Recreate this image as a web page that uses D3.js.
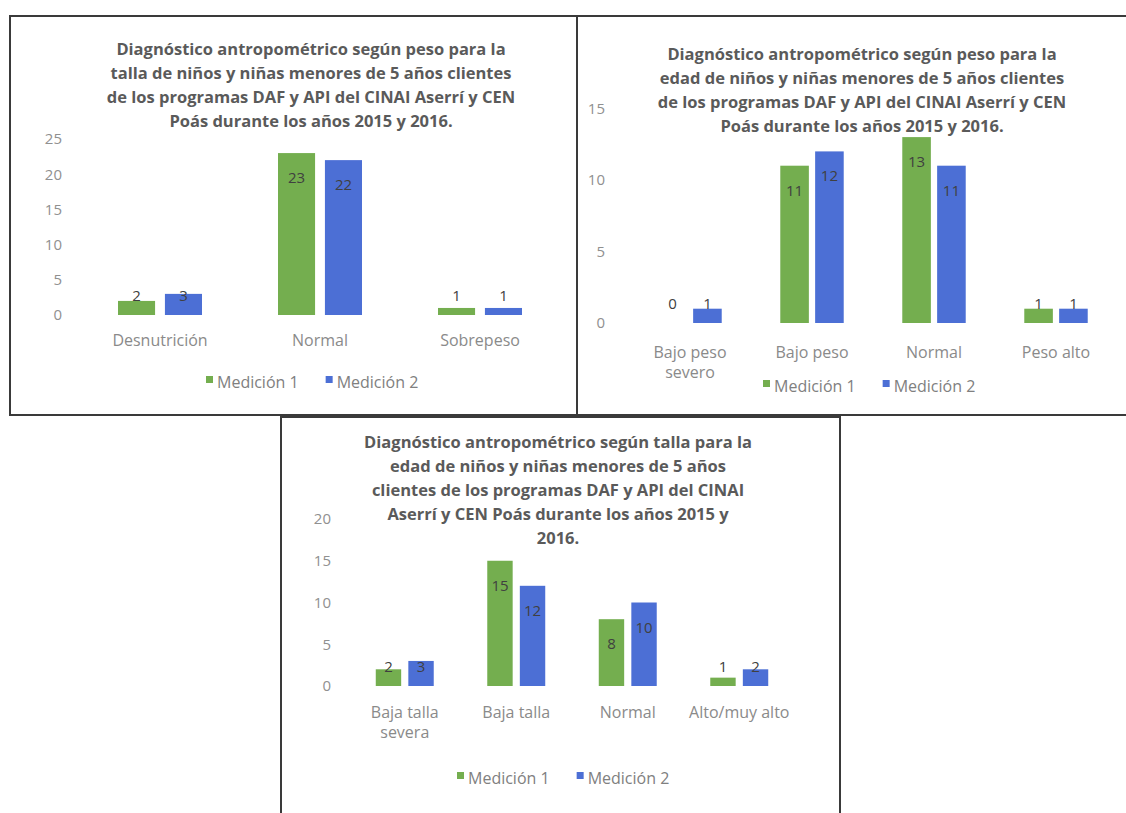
<!DOCTYPE html>
<html>
<head>
<meta charset="utf-8">
<script src="https://cdn.jsdelivr.net/npm/d3@7"></script>
<style>
  body { margin: 0; background: #fff; }
  svg { display: block; font-family: "Open Sans", sans-serif; }
</style>
</head>
<body>
<div id="charts"></div>
<script>
// Series shared by the three charts
const seriesNames = ["Medición 1", "Medición 2"];
const seriesColors = ["#74ae4f", "#4c6fd5"];

// Chart 1: peso para la talla
const title1 = [
    "Diagnóstico antropométrico según peso para la",
    "talla de niños y niñas menores de 5 años clientes",
    "de los programas DAF y API del CINAI Aserrí y CEN",
    "Poás durante los años 2015 y 2016."
];
const categories1 = ["Desnutrición", "Normal", "Sobrepeso"];
const medicion1_pt = [2, 23, 1];
const medicion2_pt = [3, 22, 1];
const ticks1 = [0, 5, 10, 15, 20, 25];

// Chart 2: peso para la edad
const title2 = [
    "Diagnóstico antropométrico según peso para la",
    "edad de niños y niñas menores de 5 años clientes",
    "de los programas DAF y API del CINAI Aserrí y CEN",
    "Poás durante los años 2015 y 2016."
];
const categories2 = ["Bajo peso\nsevero", "Bajo peso", "Normal", "Peso alto"];
const medicion1_pe = [0, 11, 13, 1];
const medicion2_pe = [1, 12, 11, 1];
const ticks2 = [0, 5, 10, 15];

// Chart 3: talla para la edad
const title3 = [
    "Diagnóstico antropométrico según talla para la",
    "edad de niños y niñas menores de 5 años",
    "clientes de los programas DAF y API del CINAI",
    "Aserrí y CEN Poás durante los años 2015 y",
    "2016."
];
const categories3 = ["Baja talla\nsevera", "Baja talla", "Normal", "Alto/muy alto"];
const medicion1_te = [2, 15, 8, 1];
const medicion2_te = [3, 12, 10, 2];
const ticks3 = [0, 5, 10, 15, 20];

const svg = d3.select("#charts")
    .append("svg")
    .attr("width", 1126)
    .attr("height", 813);

// Frames around the pasted charts
const frames = [
    { x: 10, y: 16, w: 567, h: 399 },
    { x: 577, y: 16, w: 570, h: 399 },
    { x: 281, y: 417, w: 559, h: 420 }
];
svg.selectAll("rect.frame")
    .data(frames)
    .join("rect")
    .attr("class", "frame")
    .attr("x", d => d.x)
    .attr("y", d => d.y)
    .attr("width", d => d.w)
    .attr("height", d => d.h)
    .attr("fill", "none")
    .attr("stroke", "#3a3a3a")
    .attr("stroke-width", 2);

function drawChart(opt) {
    const g = svg.append("g");
    const rows = opt.categories.map((c, i) => ({ cat: c, vals: [opt.s1[i], opt.s2[i]] }));

    const x0 = d3.scaleBand()
        .domain(opt.categories)
        .range(opt.xRange)
        .paddingInner(opt.groupPad)
        .paddingOuter(opt.groupPad / 2);

    const x1 = d3.scaleBand()
        .domain([0, 1])
        .range([0, x0.bandwidth()])
        .paddingInner(opt.barPad);

    const y = d3.scaleLinear()
        .domain([0, d3.max(opt.ticks)])
        .range([opt.yZero, opt.yTop]);

    // Title
    g.append("text")
        .attr("text-anchor", "middle")
        .attr("fill", "#5a5a5a")
        .style("font-size", "16.5px")
        .style("font-weight", 700)
        .selectAll("tspan")
        .data(opt.title)
        .join("tspan")
        .attr("x", opt.titleX)
        .attr("y", (d, i) => opt.titleY + i * 24)
        .attr("dominant-baseline", "central")
        .text(d => d);

    // Y axis (labels only)
    const yAxis = g.append("g")
        .attr("transform", `translate(${opt.tickX},0)`)
        .call(d3.axisLeft(y).tickValues(opt.ticks).tickSize(0).tickPadding(0));
    yAxis.select(".domain").remove();
    yAxis.selectAll("text")
        .attr("fill", "#909090")
        .style("font-family", "'Open Sans', sans-serif")
        .style("font-size", "15px");

    // X axis (category labels, may wrap)
    const xAxis = g.append("g")
        .attr("transform", `translate(0,${opt.catY})`)
        .call(d3.axisBottom(x0).tickSize(0).tickPadding(0));
    xAxis.select(".domain").remove();
    xAxis.selectAll("text")
        .attr("fill", "#8a8a8a")
        .attr("dy", null)
        .style("font-family", "'Open Sans', sans-serif")
        .style("font-size", "16px")
        .each(function (d) {
            const t = d3.select(this);
            const lines = d.split("\n");
            t.text(null);
            lines.forEach((ln, i) => {
                t.append("tspan")
                    .attr("x", 0)
                    .attr("y", i * 20)
                    .attr("dominant-baseline", "central")
                    .text(ln);
            });
        });

    // Bars
    const groups = g.selectAll("g.grp")
        .data(rows)
        .join("g")
        .attr("class", "grp")
        .attr("transform", d => `translate(${x0(d.cat)},0)`);

    groups.selectAll("rect")
        .data(d => d.vals.map((v, i) => ({ v, i })))
        .join("rect")
        .attr("x", d => x1(d.i))
        .attr("width", x1.bandwidth())
        .attr("y", d => y(d.v))
        .attr("height", d => opt.yZero - y(d.v))
        .attr("fill", d => seriesColors[d.i]);

    // Data labels near the bar end (above short bars)
    groups.selectAll("text.lbl")
        .data(d => d.vals.map((v, i) => ({ v, i })))
        .join("text")
        .attr("class", "lbl")
        .attr("x", d => x1(d.i) + x1.bandwidth() / 2)
        .attr("y", d => Math.min(y(d.v) + 24, opt.yZero - 20))
        .attr("text-anchor", "middle")
        .attr("dominant-baseline", "central")
        .attr("fill", "#404040")
        .style("font-size", "15px")
        .text(d => d.v);

    // Legend
    const legend = g.append("g")
        .attr("transform", `translate(${opt.legendX},${opt.legendY})`);
    let lx = 0;
    seriesNames.forEach((name, i) => {
        legend.append("rect")
            .attr("x", lx)
            .attr("y", -6)
            .attr("width", 7)
            .attr("height", 7)
            .attr("fill", seriesColors[i]);
        const t = legend.append("text")
            .attr("x", lx + 11)
            .attr("y", 0)
            .attr("dominant-baseline", "central")
            .attr("fill", "#808080")
            .style("font-size", "16px")
            .text(name);
        lx += 11 + t.node().getComputedTextLength() + 27;
    });
}

drawChart({
    title: title1, categories: categories1, s1: medicion1_pt, s2: medicion2_pt, ticks: ticks1,
    xRange: [80, 560], groupPad: 0.475, barPad: 0.21,
    yZero: 315, yTop: 139, tickX: 62,
    titleX: 311, titleY: 48, catY: 340, legendX: 206, legendY: 382
});

drawChart({
    title: title2, categories: categories2, s1: medicion1_pe, s2: medicion2_pe, ticks: ticks2,
    xRange: [629, 1117], groupPad: 0.48, barPad: 0.18,
    yZero: 323, yTop: 108.5, tickX: 605,
    titleX: 862, titleY: 53, catY: 352, legendX: 763, legendY: 386
});

drawChart({
    title: title3, categories: categories3, s1: medicion1_te, s2: medicion2_te, ticks: ticks3,
    xRange: [349, 795], groupPad: 0.48, barPad: 0.22,
    yZero: 686, yTop: 519, tickX: 331,
    titleX: 558, titleY: 441, catY: 712, legendX: 457, legendY: 778
});
</script>
</body>
</html>
